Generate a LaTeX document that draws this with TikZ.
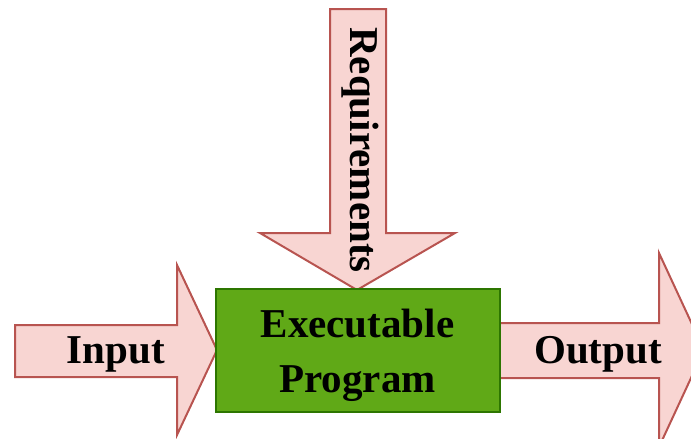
\documentclass[tikz,border=0pt]{standalone}
\usepackage{fontspec}
\setmainfont{Liberation Serif}
\definecolor{arrowfill}{HTML}{F8D5D2}
\definecolor{arrowline}{HTML}{B85450}
\definecolor{boxfill}{HTML}{60A917}
\definecolor{boxline}{HTML}{2D7600}
\tikzset{
  flowarrow/.style={fill=arrowfill, draw=arrowline, line width=2pt, line join=miter},
  progbox/.style={fill=boxfill, draw=boxline, line width=2pt, inner sep=0pt},
  lbl/.style={font=\bfseries\fontsize{41}{55}\selectfont, inner sep=0pt, anchor=base}
}
\begin{document}
\begin{tikzpicture}[x=1pt, y=-1pt]
  \useasboundingbox (0,0) rectangle (691,439);
  \clip (0,0) rectangle (691,439);
  % block arrows
  \draw[flowarrow] (15,325) -- (177,325) -- (177,265) -- (217,350) -- (177,435) -- (177,377) -- (15,377) -- cycle;
  \draw[flowarrow] (497,323) -- (659,323) -- (659,253) -- (704,350) -- (659,447) -- (659,378) -- (497,378) -- cycle;
  \draw[flowarrow] (330,9) -- (386,9) -- (386,233) -- (455,233) -- (357,290) -- (260,233) -- (330,233) -- cycle;
  % program block
  \node[progbox, minimum width=284pt, minimum height=123pt] (prog) at (358,350.5) {};
  % labels
  \node[lbl] (exec) at (357.5,337) {Executable};
  \node[lbl] (progname) at (357.5,392) {Program};
  \node[lbl] (input) at (116,363) {Input};
  \node[lbl] (output) at (598,363) {Output};
  \node[lbl, rotate=-90] (req) at (350,150) {Requirements};
\end{tikzpicture}
\end{document}
